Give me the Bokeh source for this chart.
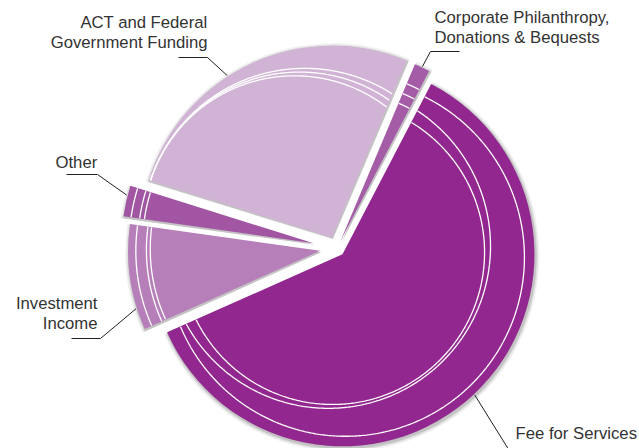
import numpy as np
from bokeh.plotting import figure
from bokeh.models import Range1d
from bokeh.embed import file_html
from bokeh.resources import INLINE
from bokeh.core.properties import value

# ---------------- data ----------------
categories = ["Corporate Philanthropy, Donations & Bequests",
              "ACT and Federal Government Funding",
              "Other",
              "Investment Income",
              "Fee for Services"]
shares = [1.3, 26.5, 2.6, 8.9, 60.7]          # percent of revenue
label_lines = [["Corporate Philanthropy,", "Donations & Bequests"],
               ["ACT and Federal", "Government Funding"],
               ["Other"],
               ["Investment", "Income"],
               ["Fee for Services"]]
colors = ["#A45CA6", "#D1B3D5", "#A155A2", "#B77FB9", "#92278F"]

# ---------------- layout ----------------
W, H = 639, 448
CX, CY = 336.5, H - 248.0
R = 192.0
START = np.deg2rad(62.5)
explode = [8, 12, 24, 17, 8]

# decorative white arcs per slice: (offset_x, offset_y, radius) in units of R
def act_family():
    o = np.array([-33.0, 9.0]); r = 156.0
    phi = np.deg2rad(161.3)
    P = o + r * np.array([np.cos(phi), np.sin(phi)])
    out = []
    for k in (0.97, 1.005, 1.04):
        c = P - k * r * np.array([np.cos(phi), np.sin(phi)])
        out.append((c[0] / R, c[1] / R, k * r / R))
    return out

deco = [
    [(0, 0, 0.89), (0, 0, 0.835), (0, 0, 0.78)],
    act_family(),
    [(0, 0, 0.96), (0, 0, 0.915), (0, 0, 0.89)],
    [(0, 0, 0.96), (0.0, 0.005, 0.905), (0.0, 0.01, 0.885)],
    [(0.0156, -0.0156, 0.932), (-0.073, 0.042, 0.844), (-0.052, 0.010, 0.792)],
]

# label layout (screen coords): text x, first baseline, align, leader start x, elbow (x, y), anchor angle shift (deg)
TEXT_DY = -6
label_layout = [
    dict(x=434, y=23, align="left", hx=459, ex=430, ey=51, shift=0.0),
    dict(x=207, y=28, align="right", hx=178, ex=207, ey=57, shift=8.0),
    dict(x=55, y=168, align="left", hx=66, ex=97, ey=174, shift=-1.7),
    dict(x=97, y=309, align="right", hx=71, ex=100, ey=338, shift=9.5),
    dict(x=515, y=439, align="left", hx=None, ex=510, ey=452, shift=0.0),
]

p = figure(width=W, height=H, x_range=Range1d(0, W), y_range=Range1d(0, H),
           output_backend="svg", toolbar_location=None,
           x_axis_location=None, y_axis_location=None, min_border=0)
p.grid.visible = False
p.outline_line_color = None
p.background_fill_color = "white"

total = float(sum(shares))
angles = [START]
for s in shares:
    angles.append(angles[-1] + 2 * np.pi * s / total)

centers = []
for i in range(len(shares)):
    a0, a1 = angles[i], angles[i + 1]
    bis = 0.5 * (a0 + a1)
    cx = CX + explode[i] * np.cos(bis)
    cy = CY + explode[i] * np.sin(bis)
    centers.append((cx, cy, a0, a1, bis))

# soft shadows
for (cx, cy, a0, a1, bis) in centers:
    for dr, al in ((4.0, 0.05), (2.5, 0.08), (1.2, 0.12)):
        p.wedge(x=cx + 1.0, y=cy - 1.5, radius=R + dr, start_angle=a0 - 0.004,
                end_angle=a1 + 0.004, fill_color="#000000", fill_alpha=al,
                line_color=None)

# slices
for i, (cx, cy, a0, a1, bis) in enumerate(centers):
    p.wedge(x=cx, y=cy, radius=R, start_angle=a0, end_angle=a1,
            fill_color=colors[i], line_color=None)

# decorative white arcs
for i, (cx, cy, a0, a1, bis) in enumerate(centers):
    th = np.linspace(a0 + 0.002, a1 - 0.002, 400)
    u = np.stack([np.cos(th), np.sin(th)], axis=1)
    for (ox, oy, rf) in deco[i]:
        o = np.array([ox * R, oy * R]); r = rf * R
        uo = u @ o
        disc = uo ** 2 - o @ o + r ** 2
        t = uo + np.sqrt(np.clip(disc, 0, None))
        t = np.where(t < R - 1.5, t, np.nan)
        xs = cx + t * u[:, 0]
        ys = cy + t * u[:, 1]
        p.line(xs, ys, line_color="white", line_width=1.3)

# labels and leader lines
for i, lay in enumerate(label_layout):
    cx, cy, a0, a1, bis = centers[i]
    a = bis + np.deg2rad(lay["shift"])
    ax, ay = cx + (R + 1) * np.cos(a), cy + (R + 1) * np.sin(a)
    xs, ys = [], []
    if lay["hx"] is not None:
        xs.append(lay["hx"]); ys.append(H - lay["ey"])
    xs += [lay["ex"], ax]; ys += [H - lay["ey"], ay]
    p.line(xs, ys, line_color="#231F20", line_width=1)
    lines = label_lines[i]
    p.text(x=[lay["x"]] * len(lines),
           y=[H - (lay["y"] + TEXT_DY + 20 * k) for k in range(len(lines))],
           text=lines, text_align=lay["align"], text_baseline="alphabetic",
           text_font=value("Liberation Sans"), text_font_size="16.7px",
           text_color="#333333")

open("out.html", "w").write(file_html(p, INLINE))
